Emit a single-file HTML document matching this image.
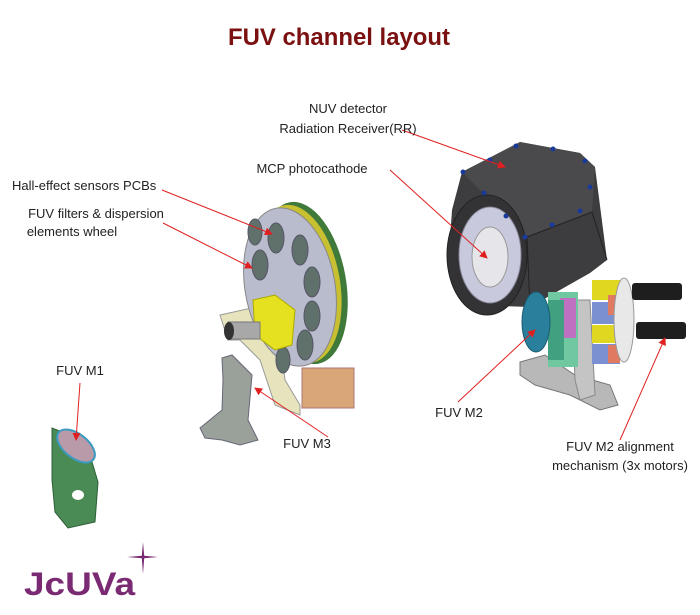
<!DOCTYPE html>
<html><head><meta charset="utf-8"><style>
html,body{margin:0;padding:0;background:#fff;width:700px;height:615px;overflow:hidden}
svg text{font-family:"Liberation Sans",sans-serif;fill:#222}
</style></head><body>
<svg width="700" height="615" viewBox="0 0 700 615" xmlns="http://www.w3.org/2000/svg">
<defs><marker id="a" markerWidth="8" markerHeight="8" refX="7" refY="4" orient="auto" markerUnits="userSpaceOnUse"><path d="M0,0 L8,4 L0,8 z" fill="#e02020"/></marker></defs>
<text x="339" y="45" text-anchor="middle" font-size="24" font-weight="bold" style="fill:#7a1010" textLength="222" lengthAdjust="spacingAndGlyphs">FUV channel layout</text>

<!-- detector -->
<polygon points="462,172 520,142 580,153 595,167 607,260 590,273 530,307 470,305 448,268 452,210" fill="#3d3d3f"/>
<polygon points="462,172 520,142 580,153 595,167 592,212 527,237" fill="#4a4a4c"/>
<polyline points="527,237 592,212 607,260" fill="none" stroke="#222" stroke-width="1"/>
<line x1="527" y1="237" x2="530" y2="307" stroke="#222"/>
<ellipse cx="487" cy="255" rx="40" ry="60" fill="#333335" stroke="#222"/>
<ellipse cx="490" cy="255" rx="31" ry="48" fill="#c9c9de" stroke="#889"/>
<ellipse cx="490" cy="257" rx="18" ry="30" fill="#e6e6ea" stroke="#999"/>
<g fill="#1a3a9a"><circle cx="516" cy="146" r="2.5"/><circle cx="553" cy="149" r="2.5"/><circle cx="585" cy="161" r="2.5"/><circle cx="590" cy="187" r="2.5"/><circle cx="580" cy="211" r="2.5"/><circle cx="552" cy="225" r="2.5"/><circle cx="525" cy="237" r="2.5"/><circle cx="506" cy="216" r="2.5"/><circle cx="484" cy="193" r="2.5"/><circle cx="463" cy="172" r="2.5"/><circle cx="490" cy="160" r="2.5"/></g>

<!-- M2 mechanism -->
<polygon points="520,362 545,355 575,375 610,385 618,405 600,410 570,395 535,385 520,375" fill="#b8b8b8" stroke="#777"/>
<polygon points="572,300 590,300 595,395 580,400 575,380" fill="#c4c4c4" stroke="#888"/>
<rect x="548" y="292" width="30" height="75" fill="#6fc8a0"/>
<rect x="560" y="298" width="16" height="40" fill="#c070c0"/>
<rect x="592" y="280" width="30" height="20" fill="#e0d820"/>
<rect x="592" y="302" width="30" height="22" fill="#7a90d0"/>
<rect x="592" y="325" width="30" height="18" fill="#e0d820"/>
<rect x="592" y="344" width="28" height="20" fill="#7a90d0"/>
<rect x="608" y="295" width="12" height="20" fill="#e07a60"/>
<rect x="608" y="345" width="12" height="18" fill="#e07a60"/>
<ellipse cx="624" cy="320" rx="10" ry="42" fill="#e8e8e8" stroke="#999"/>
<rect x="632" y="283" width="50" height="17" rx="3" fill="#1e1e1e"/>
<rect x="636" y="322" width="50" height="17" rx="3" fill="#1e1e1e"/>
<rect x="548" y="300" width="16" height="60" fill="#40a080"/>
<ellipse cx="536" cy="322" rx="14" ry="30" fill="#2a7f9c" stroke="#1a5a70"/>

<!-- filter wheel -->
<polygon points="220,315 265,305 280,340 285,380 300,405 300,415 275,405 260,360 240,340 228,340" fill="#e6e3bd" stroke="#999"/>
<rect x="302" y="368" width="52" height="40" fill="#d9a677" stroke="#a77"/>
<ellipse cx="304" cy="283" rx="42" ry="82" fill="#3f7a3a" transform="rotate(-10 304 283)"/>
<ellipse cx="298" cy="284" rx="42" ry="80" fill="#c8c030" transform="rotate(-10 298 284)"/>
<ellipse cx="290" cy="287" rx="45" ry="80" fill="#b9bccc" stroke="#888" transform="rotate(-10 290 287)"/>
<g fill="#60706a" stroke="#556">
<ellipse cx="260" cy="265" rx="8" ry="15"/><ellipse cx="276" cy="238" rx="8" ry="15"/><ellipse cx="300" cy="250" rx="8" ry="15"/><ellipse cx="312" cy="282" rx="8" ry="15"/><ellipse cx="312" cy="316" rx="8" ry="15"/><ellipse cx="305" cy="345" rx="8" ry="15"/><ellipse cx="283" cy="360" rx="7" ry="13"/><ellipse cx="255" cy="232" rx="7" ry="13"/>
</g>
<polygon points="253,300 275,295 295,310 292,345 275,350 255,335" fill="#e5e020" stroke="#aa0"/>
<rect x="228" y="322" width="32" height="17" fill="#a8a8a8" stroke="#777"/>
<ellipse cx="229" cy="331" rx="5" ry="9" fill="#333"/>

<!-- M3 -->
<polygon points="222,358 232,355 252,375 248,420 258,440 240,445 222,440 205,438 200,428 222,410 223,380" fill="#9aa19a" stroke="#667"/>

<!-- M1 -->
<polygon points="52,428 62,432 92,462 98,482 95,522 68,528 55,512 52,480" fill="#4a8a55" stroke="#2f5f38"/>
<ellipse cx="76" cy="446" rx="22" ry="12" fill="#b89aa8" stroke="#3a9ac0" stroke-width="2" transform="rotate(38 76 446)"/>
<ellipse cx="78" cy="495" rx="6" ry="5" fill="#fff"/>

<!-- arrows -->
<g stroke="#e02020" stroke-width="1" marker-end="url(#a)">
<line x1="402" y1="130" x2="505" y2="167"/>
<line x1="390" y1="170" x2="487" y2="258"/>
<line x1="162" y1="190" x2="272" y2="234"/>
<line x1="163" y1="223" x2="252" y2="268"/>
<line x1="80" y1="383" x2="76" y2="440"/>
<line x1="328" y1="437" x2="255" y2="388"/>
<line x1="458" y1="402" x2="535" y2="330"/>
<line x1="620" y1="440" x2="665" y2="338"/>
</g>

<g font-size="13">
<text x="348" y="113" text-anchor="middle">NUV detector</text>
<text x="348" y="133" text-anchor="middle">Radiation Receiver(RR)</text>
<text x="312" y="173" text-anchor="middle">MCP photocathode</text>
<text x="12" y="190">Hall-effect sensors PCBs</text>
<text x="96" y="218" text-anchor="middle">FUV filters &amp; dispersion</text>
<text x="72" y="236" text-anchor="middle">elements wheel</text>
<text x="80" y="375" text-anchor="middle">FUV M1</text>
<text x="307" y="448" text-anchor="middle">FUV M3</text>
<text x="459" y="417" text-anchor="middle">FUV M2</text>
<text x="620" y="451" text-anchor="middle">FUV M2 alignment</text>
<text x="620" y="470" text-anchor="middle">mechanism (3x motors)</text>
</g>

<text x="24" y="595" font-size="32" font-weight="bold" style="fill:#7a2a72" textLength="111" lengthAdjust="spacingAndGlyphs">JcUVa</text>
<path d="M143,542 L144.2,555.8 L158,557 L144.2,558.2 L143,574 L141.8,558.2 L127,557 L141.8,555.8 Z" fill="#7a2a72"/>
</svg>
</body></html>
